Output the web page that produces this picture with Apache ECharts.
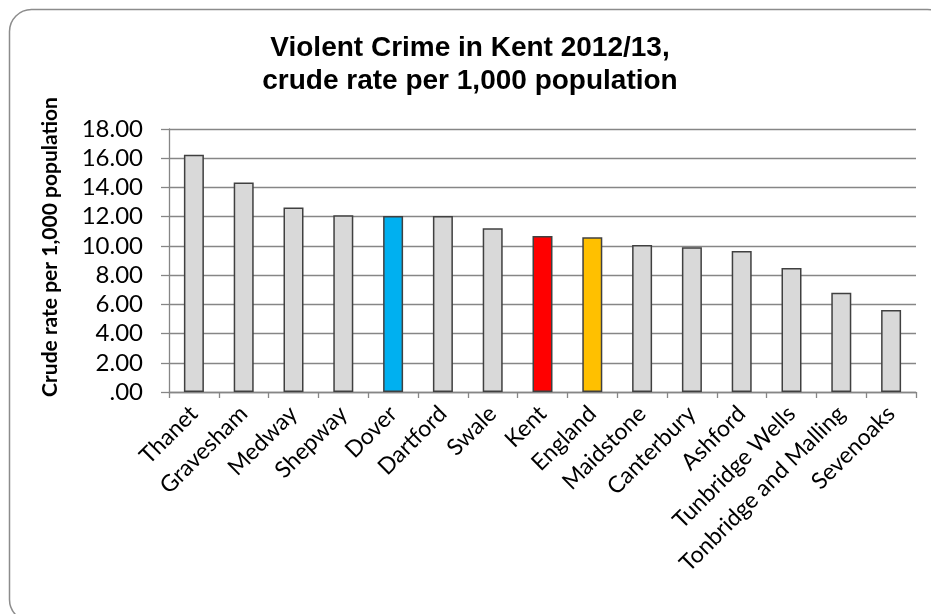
<!DOCTYPE html>
<html>
<head>
<meta charset="utf-8">
<script src="https://cdn.jsdelivr.net/npm/echarts@6/dist/echarts.min.js"></script>
<style>
html,body{margin:0;padding:0;background:#fff;}
#c{width:931px;height:614px;}
</style>
</head>
<body>
<div id="c"></div>
<script>
const categories = ['Thanet','Gravesham','Medway','Shepway','Dover','Dartford','Swale','Kent','England','Maidstone','Canterbury','Ashford','Tunbridge Wells','Tonbridge and Malling','Sevenoaks'];
const values = [16.23, 14.33, 12.62, 12.09, 12.05, 12.04, 11.20, 10.68, 10.59, 10.06, 9.90, 9.65, 8.49, 6.80, 5.61];
const highlightColors = { 'Dover': '#00B0F0', 'Kent': '#FF0000', 'England': '#FFC000' };
const baseColor = '#D9D9D9';
const titleText = 'Violent Crime in Kent 2012/13,\ncrude rate per 1,000 population';
const yAxisName = 'Crude rate per 1,000 population';

const chart = echarts.init(document.getElementById('c'));
chart.setOption({
  backgroundColor: '#fff',
  animation: false,
  graphic: [{
    type: 'rect',
    shape: { x: 9.5, y: 9.5, width: 940, height: 612, r: 22 },
    style: { fill: 'none', stroke: '#8c8c8c', lineWidth: 1.5 },
    silent: true, z: -1
  }, {
    type: 'text',
    x: 50, y: 247,
    rotation: Math.PI / 2,
    style: {
      text: yAxisName,
      align: 'center', verticalAlign: 'middle',
      font: 'bold 21px Lato', fill: '#000'
    },
    silent: true
  }],
  title: {
    text: titleText,
    left: 465, top: 27, textAlign: 'center',
    textStyle: { fontFamily: 'Liberation Sans', fontWeight: 'bold', fontSize: 28, lineHeight: 33, color: '#000' }
  },
  grid: { left: 169, right: 15, top: 129, bottom: 222 },
  xAxis: {
    type: 'category',
    data: categories,
    axisLine: { lineStyle: { color: '#868686', width: 1.3 } },
    axisTick: { show: true, length: 6, alignWithLabel: false, lineStyle: { color: '#868686', width: 1.3 } },
    axisLabel: { rotate: 45, interval: 0, margin: 18, fontFamily: 'Lato', fontSize: 23, color: '#000' }
  },
  yAxis: {
    type: 'value',
    min: 0, max: 18, interval: 2,
    axisLine: { show: true, lineStyle: { color: '#868686', width: 1.3 } },
    axisTick: { show: true, length: 8, lineStyle: { color: '#868686', width: 1.3 } },
    splitLine: { lineStyle: { color: '#868686', width: 1.3 } },
    axisLabel: {
      margin: 26, fontFamily: 'Lato', fontSize: 24, color: '#000',
      formatter: v => v === 0 ? '.00' : v.toFixed(2)
    }
  },
  series: [{
    type: 'bar',
    barWidth: 20,
    data: values.map((v, i) => ({
      value: v,
      itemStyle: { color: highlightColors[categories[i]] || baseColor }
    })),
    itemStyle: { borderColor: '#404040', borderWidth: 1.5 }
  }]
});
</script>
</body>
</html>
